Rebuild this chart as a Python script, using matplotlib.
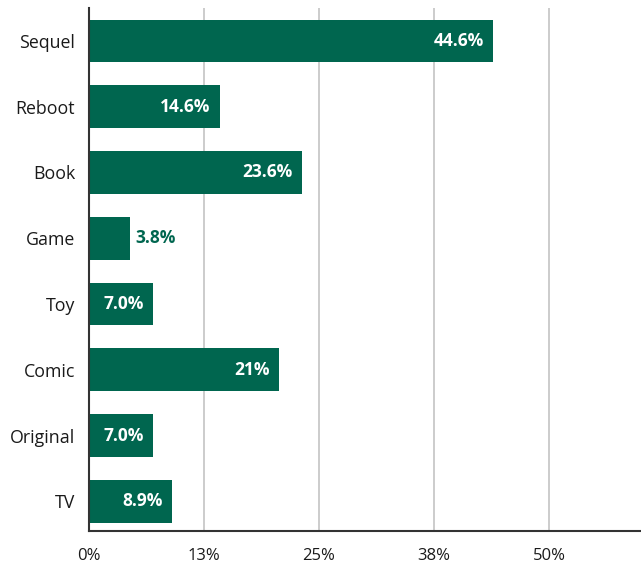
import matplotlib
matplotlib.use("Agg")
import matplotlib.pyplot as plt

categories = ["Sequel", "Reboot", "Book", "Game", "Toy", "Comic", "Original", "TV"]
values = [43.9, 14.2, 23.1, 4.5, 7.0, 20.6, 7.0, 9.0]
value_labels = ["44.6%", "14.6%", "23.6%", "3.8%", "7.0%", "21%", "7.0%", "8.9%"]
label_outside = [False, False, False, True, False, False, False, False]
xticks = [0, 12.5, 25, 37.5, 50]
xtick_labels = ["0%", "13%", "25%", "38%", "50%"]

GREEN = "#00664f"
FONT = ["Open Sans", "DejaVu Sans"]
plt.rcParams["font.family"] = FONT

fig = plt.figure(figsize=(6.41, 5.64), dpi=100)
ax = fig.add_axes([89 / 641, 1 - 531 / 564, 1 - 89 / 641, (531 - 8) / 564])

y = list(range(len(categories)))
ax.barh(y, values, height=0.65, color=GREEN, zorder=3)

for yi, v, lab, out in zip(y, values, value_labels, label_outside):
    if out:
        ax.text(v + 0.5, yi, lab, ha="left", va="center", color=GREEN,
                fontsize=12.5, fontweight="bold", zorder=4)
    else:
        ax.text(v - 1.0, yi, lab, ha="right", va="center", color="white",
                fontsize=12.5, fontweight="bold", zorder=4)

ax.set_xlim(0, 60)
ax.set_ylim(len(categories) - 0.55, -0.5)
ax.set_yticks(y)
ax.set_yticklabels(categories, fontsize=12.8, color="#1a1a1a")
ax.set_xticks(xticks)
ax.set_xticklabels(xtick_labels, fontsize=12, color="#1a1a1a")
ax.tick_params(axis="both", length=0)
ax.tick_params(axis="y", pad=10)
ax.tick_params(axis="x", pad=12)

ax.grid(axis="x", color="#c8c8c8", linewidth=1.3, zorder=0)
ax.grid(axis="y", visible=False)
for s in ["top", "right"]:
    ax.spines[s].set_visible(False)
for s in ["left", "bottom"]:
    ax.spines[s].set_color("#333333")
    ax.spines[s].set_linewidth(1.5)
    ax.spines[s].set_zorder(5)

fig.savefig("out.png", dpi=100)
